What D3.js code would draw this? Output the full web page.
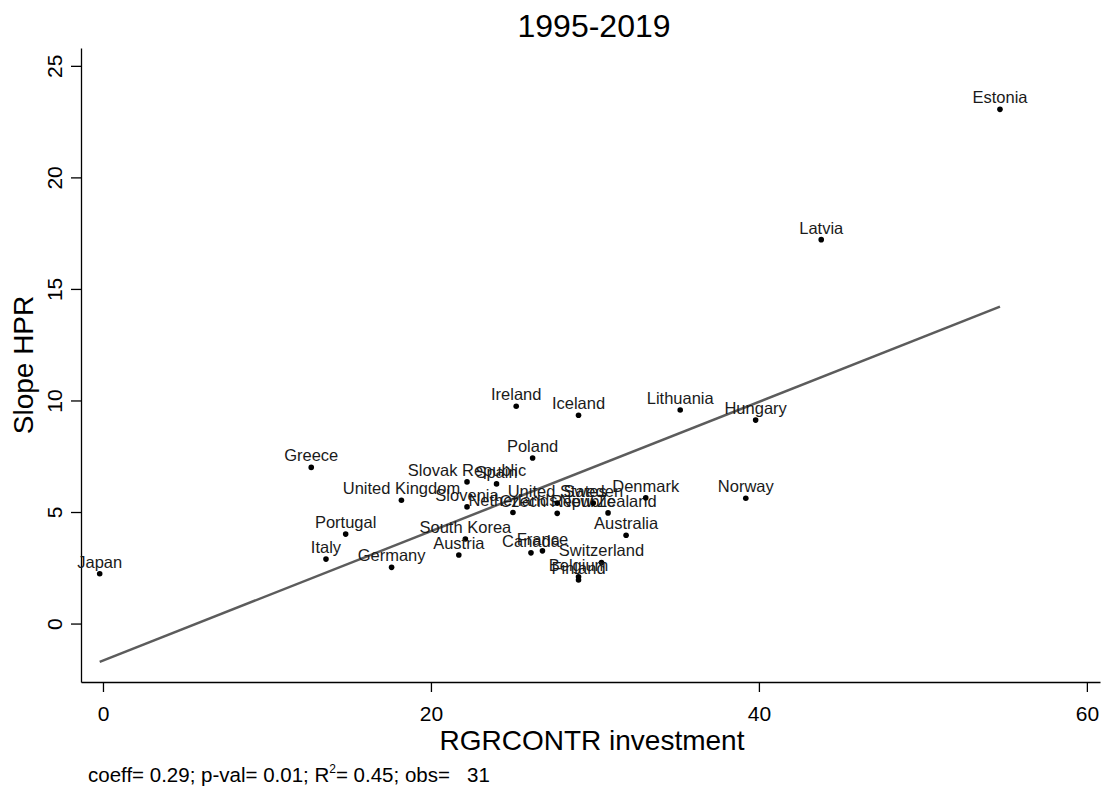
<!DOCTYPE html>
<html>
<head>
<meta charset="utf-8">
<script src="https://cdn.jsdelivr.net/npm/d3@7"></script>
<style>
  body { margin: 0; background: #fff; }
  svg text { font-family: Arial, "Liberation Sans", sans-serif; }
</style>
</head>
<body>
<script>
// country scatter
var countries = ["Japan", "Estonia", "Latvia", "Ireland", "Iceland", "Lithuania", "Hungary",
  "Poland", "Greece", "Slovak Republic", "Spain", "United Kingdom", "Slovenia", "Netherlands",
  "Czech Republic", "United States", "Sweden", "New Zealand", "Denmark", "Norway", "Australia",
  "Portugal", "Italy", "Germany", "South Korea", "Austria", "Canada", "France", "Switzerland",
  "Belgium", "Finland"];
var investment = [-0.2, 54.7, 43.8, 25.2, 29.0, 35.2, 39.8,
  26.2, 12.7, 22.2, 24.0, 18.2, 22.2, 25.0,
  27.7, 27.7, 29.9, 30.8, 33.1, 39.2, 31.9,
  14.8, 13.6, 17.6, 22.1, 21.7, 26.1, 26.8, 30.4,
  29.0, 29.0];
var slopeHPR = [2.23, 23.05, 17.21, 9.74, 9.34, 9.57, 9.12,
  7.42, 7.0, 6.35, 6.26, 5.53, 5.23, 4.98,
  4.94, 5.40, 5.40, 4.96, 5.64, 5.62, 3.96,
  4.01, 2.89, 2.52, 3.79, 3.07, 3.17, 3.26, 2.74,
  2.1, 1.95];

var xTicks = [0, 20, 40, 60];
var yTicks = [0, 5, 10, 15, 20, 25];
var fitCoef = [-1.66, 0.29]; // intercept, slope

var width = 1104, height = 791;
var svg = d3.select("body").append("svg")
    .attr("width", width)
    .attr("height", height);

var x = d3.scaleLinear().domain([-1.34, 60.8]).range([81, 1100]);
var y = d3.scaleLinear().domain([-2.62, 25.8]).range([682, 48]);

// title
svg.append("text")
    .attr("x", 594).attr("y", 37)
    .attr("text-anchor", "middle")
    .attr("font-size", 32)
    .text("1995-2019");

// axes
var xAxis = svg.append("g")
    .attr("transform", "translate(0,682)")
    .call(d3.axisBottom(x).tickValues(xTicks).tickSize(10).tickSizeOuter(0).tickPadding(14));
var yAxis = svg.append("g")
    .attr("transform", "translate(81,0)")
    .call(d3.axisLeft(y).tickValues(yTicks).tickSize(10).tickSizeOuter(0).tickFormat(d3.format("d")));

[xAxis, yAxis].forEach(function(a) {
  a.select(".domain").attr("stroke", "#000").attr("stroke-width", 1.3);
  a.selectAll(".tick line").attr("stroke", "#000").attr("stroke-width", 1.3);
});
xAxis.selectAll(".tick text").attr("font-size", 21).attr("fill", "#000");
yAxis.selectAll(".tick text")
    .attr("font-size", 21).attr("fill", "#000")
    .attr("text-anchor", "middle")
    .attr("x", null).attr("dy", null)
    .attr("transform", "translate(-19,0) rotate(-90)");

// axis titles
svg.append("text")
    .attr("x", 592).attr("y", 750)
    .attr("text-anchor", "middle")
    .attr("font-size", 28)
    .text("RGRCONTR investment");
svg.append("text")
    .attr("transform", "translate(33,365) rotate(-90)")
    .attr("text-anchor", "middle")
    .attr("font-size", 28)
    .text("Slope HPR");

// fitted line over the data range
var xr = d3.extent(investment);
svg.append("line")
    .attr("x1", x(xr[0])).attr("y1", y(fitCoef[0] + fitCoef[1] * xr[0]))
    .attr("x2", x(xr[1])).attr("y2", y(fitCoef[0] + fitCoef[1] * xr[1]))
    .attr("stroke", "#5c5c5c")
    .attr("stroke-width", 2.5);

// points + labels
var pts = svg.append("g").selectAll("g")
    .data(countries)
    .enter().append("g");
pts.append("circle")
    .attr("cx", function(d, i) { return x(investment[i]); })
    .attr("cy", function(d, i) { return y(slopeHPR[i]); })
    .attr("r", 2.8)
    .attr("fill", "#000");
pts.append("text")
    .attr("x", function(d, i) { return x(investment[i]); })
    .attr("y", function(d, i) { return y(slopeHPR[i]) - 6; })
    .attr("text-anchor", "middle")
    .attr("font-size", 16.5)
    .attr("fill", "#1a1a1a")
    .text(function(d) { return d; });

// footer note
var note = svg.append("text")
    .attr("x", 88).attr("y", 782)
    .attr("font-size", 20.5)
    .style("white-space", "pre");
note.append("tspan").text("coeff= 0.29; p-val= 0.01; R");
note.append("tspan").attr("dy", -9).attr("font-size", 12).text("2");
note.append("tspan").attr("dy", 9).text("= 0.45; obs=   31");
</script>
</body>
</html>
